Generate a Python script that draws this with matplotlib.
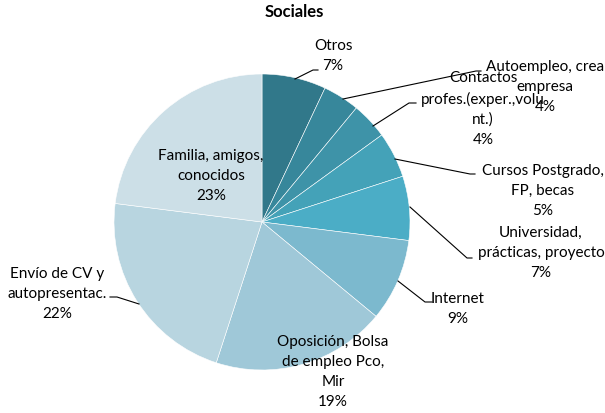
import matplotlib.pyplot as plt

plt.rcParams['font.family'] = ['Lato', 'DejaVu Sans']

labels = ["Otros", "Autoempleo, crea\nempresa", "Contactos\nprofes.(exper.,volu\nnt.)",
          "Cursos Postgrado,\nFP, becas", "Universidad,\nprácticas, proyecto", "Internet",
          "Oposición, Bolsa\nde empleo Pco,\nMir", "Envío de CV y\nautopresentac.",
          "Familia, amigos,\nconocidos"]
values = [7, 4, 4, 5, 7, 9, 19, 22, 23]
colors = ["#31788A", "#37879B", "#3E93A8", "#44A2B8", "#4BADC6", "#7CB9CE",
          "#9FC8D8", "#B8D5E0", "#CCDFE7"]

# label text centres (pixels from top-left) and leader line points
text_pos = [(333, 56), (545, 87), (483, 109), (543, 191), (541, 253),
            (458, 309), (333, 372), (57, 294), (211, 176)]
leaders = [[(295, 80), (313, 71), (318, 71)],
           [(343, 100), (476, 72), (481, 72)],
           [(373, 127), (409, 104), (416, 104)],
           [(395, 160), (470, 175), (475, 175)],
           [(410, 208), (467, 259), (472, 259)],
           [(398, 282), (425, 303), (432, 303)],
           None,
           [(139, 305), (117, 298), (110, 298)],
           None]

W, H = 605, 414
fig = plt.figure(figsize=(6.05, 4.14), dpi=100)
ax = fig.add_axes([0, 0, 1, 1])

ax.pie(values, colors=colors, startangle=90, counterclock=False,
       center=(262, H - 223), radius=148, frame=True,
       wedgeprops=dict(edgecolor='white', linewidth=0.4))
ax.set_xlim(0, W)
ax.set_ylim(0, H)
ax.axis('off')

for lab, v, (tx, ty), ld in zip(labels, values, text_pos, leaders):
    ax.text(tx, H - ty, f"{lab}\n{v}%", ha='center', va='center', fontsize=11,
            linespacing=1.55, color='black')
    if ld:
        ax.plot([p[0] for p in ld], [H - p[1] for p in ld], color='black', lw=0.8)

ax.text(294, H - 12, "Sociales", ha='center', va='center', fontsize=12, fontweight='bold')

fig.savefig("out.png", dpi=100)
